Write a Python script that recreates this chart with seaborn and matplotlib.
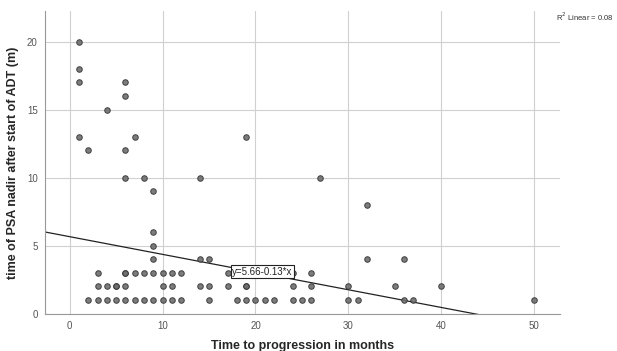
import pandas as pd
import matplotlib.pyplot as plt
import seaborn as sns

# Points (months, months)
months_to_progression = [
    1, 1, 1, 1, 2, 2, 3, 3, 3, 4, 4, 4, 5, 5, 5,
    6, 6, 6, 6, 6, 6, 6, 6, 7, 7, 7, 8, 8, 8,
    9, 9, 9, 9, 9, 9, 10, 10, 10, 11, 11, 11, 12, 12,
    14, 14, 14, 15, 15, 15, 17, 17, 18, 19, 19, 19, 19, 20, 21, 22,
    24, 24, 24, 25, 26, 26, 26, 27, 30, 30, 31, 32, 32, 35, 36, 36, 37,
    40, 50,
]
psa_nadir_time = [
    20, 18, 17, 13, 12, 1, 3, 2, 1, 15, 2, 1, 2, 2, 1,
    17, 16, 12, 10, 3, 2, 1, 3, 13, 3, 1, 10, 3, 1,
    9, 6, 5, 4, 3, 1, 3, 2, 1, 3, 2, 1, 3, 1,
    10, 4, 2, 4, 2, 1, 3, 2, 1, 13, 2, 2, 1, 1, 1, 1,
    3, 2, 1, 1, 3, 2, 1, 10, 2, 1, 1, 8, 4, 2, 4, 1, 1,
    2, 1,
]

# Fit line as printed on the chart
intercept = 5.66
slope = -0.13
fit_label = "y=5.66-0.13*x"
r2_label = "R$^2$ Linear = 0.08"

data = pd.DataFrame({"months": months_to_progression, "nadir": psa_nadir_time})

sns.set_style("white")
plt.rcParams["font.family"] = ["Liberation Sans", "DejaVu Sans"]

fig = plt.figure(figsize=(6.17, 3.51), dpi=100)
ax = fig.add_axes([0.0724, 0.1063, 0.8352, 0.8624])

sns.scatterplot(x="months", y="nadir", data=data, ax=ax, s=16,
                color="#6e6e6e", edgecolor="#333333", linewidth=0.7,
                alpha=0.9, zorder=3)

xmin, xmax = -2.7, 52.8
ax.set_xlim(xmin, xmax)
ax.set_ylim(0, 22.25)

# regression line, clipped by the axes at y=0
xs = [xmin, xmax]
ys = [intercept + slope * v for v in xs]
ax.plot(xs, ys, color="#222222", linewidth=0.9, zorder=2)

ax.text(17.5, 3.07, fit_label, fontsize=7, va="center", ha="left",
        color="#222222", zorder=4,
        bbox=dict(boxstyle="square,pad=0.15", facecolor="white",
                  edgecolor="#222222", linewidth=0.8))

fig.text(556 / 617, 1 - 17 / 351, r2_label, fontsize=5.5, va="center",
         ha="left", color="#333333")

ax.set_xticks([0, 10, 20, 30, 40, 50])
ax.set_yticks([0, 5, 10, 15, 20])
ax.grid(True, color="#d0d0d0", linewidth=0.8)
ax.set_axisbelow(True)
for side in ["top", "right"]:
    ax.spines[side].set_visible(False)
for side in ["left", "bottom"]:
    ax.spines[side].set_color("#999999")
    ax.spines[side].set_linewidth(0.8)
ax.tick_params(axis="both", labelsize=7, colors="#555555", length=3,
               width=0.6, color="#bbbbbb", pad=2)

ax.set_xlabel("Time to progression in months", fontsize=9,
              fontweight="bold", labelpad=7)
ax.set_ylabel("time of PSA nadir after start of ADT (m)", fontsize=9,
              fontweight="bold", labelpad=6)

fig.savefig("out.png", dpi=100)
